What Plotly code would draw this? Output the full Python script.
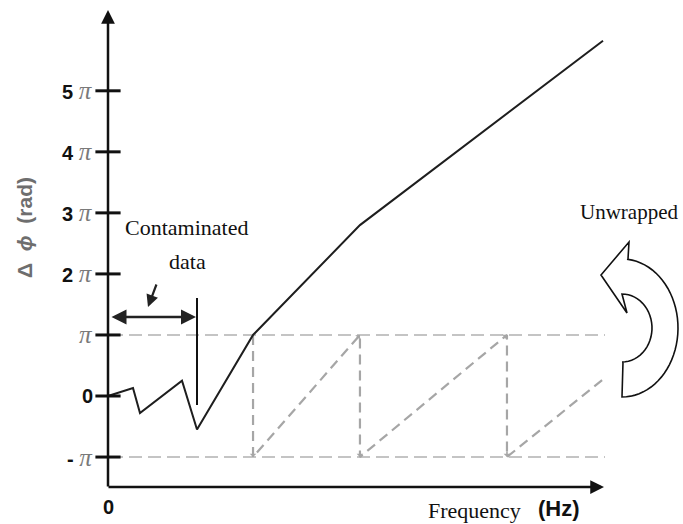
import numpy as np
import plotly.graph_objects as go

W, H = 683, 524

# Frequency in arbitrary units along the axis (0..100), phase difference in units of pi
unwrapped_f = [0, 5.05, 6.46, 14.95, 17.98, 29.3, 50.9, 100.0]
unwrapped_v = [0, 0.13, -0.28, 0.25, -0.55, 1.0, 2.8, 5.82]
wrapped_f = [29.3, 29.3, 50.9, 50.9, 80.6, 80.6, 100.4]
wrapped_v = [1, -1, 1, -1, 1, -1, 0.3]
tick_vals = [-1, 0, 1, 2, 3, 4, 5]
tick_nums = ["-", "0", "", "2", "3", "4", "5"]
contaminated_end = 17.98

# pixel placement of the axes origin and scale
X0, SX = 108.0, 4.95
V0, SY = 396.0, 61.04
xr = [-X0 / SX, (W - X0) / SX]
yr = [(V0 - H) / SY, V0 / SY]


def fx(px):
    return (px - X0) / SX


def vy(py):
    return (V0 - py) / SY


SERIF = "Liberation Serif"
SANS = "Liberation Sans"

fig = go.Figure()

# wrapped-phase band limits at +pi and -pi
for lvl in (1, -1):
    fig.add_trace(go.Scatter(x=[fx(110), fx(605)], y=[lvl, lvl], mode="lines",
                             line=dict(color="#c4c4c4", width=2, dash="13px,6px"),
                             hoverinfo="skip", showlegend=False))

# wrapped phase (sawtooth)
fig.add_trace(go.Scatter(x=wrapped_f, y=wrapped_v, mode="lines",
                         line=dict(color="#a6a6a6", width=2.2, dash="10px,6px"),
                         hoverinfo="skip", showlegend=False))

# unwrapped phase
fig.add_trace(go.Scatter(x=unwrapped_f, y=unwrapped_v, mode="lines",
                         line=dict(color="#1e1e1e", width=2),
                         hoverinfo="skip", showlegend=False))

# y-axis tick marks
fig.add_trace(go.Scatter(x=[0] * len(tick_vals), y=tick_vals, mode="markers",
                         marker=dict(symbol="line-ew", size=18,
                                     line=dict(color="#111", width=3)),
                         hoverinfo="skip", showlegend=False, cliponaxis=False))

# end of contaminated region
fig.add_trace(go.Scatter(x=[contaminated_end, contaminated_end], y=[vy(298), vy(405)],
                         mode="lines", line=dict(color="#111", width=2),
                         hoverinfo="skip", showlegend=False))

ann = []

# axes with arrow heads
ann.append(dict(x=0, y=vy(10), ax=0, ay=vy(488), xref="x", yref="y", axref="x", ayref="y",
                text="", showarrow=True, arrowhead=2, arrowsize=1.1, arrowwidth=2.5,
                arrowcolor="#111", standoff=0))
ann.append(dict(x=fx(604), y=vy(487), ax=fx(107), ay=vy(487), xref="x", yref="y",
                axref="x", ayref="y", text="", showarrow=True, arrowhead=2, arrowsize=1.1,
                arrowwidth=2.5, arrowcolor="#111", standoff=0))

# contaminated span (double arrow) and pointer
ann.append(dict(x=contaminated_end - 0.2, y=vy(317), ax=fx(110), ay=vy(317), xref="x", yref="y",
                axref="x", ayref="y", text="", showarrow=True, arrowhead=2, arrowsize=1.2,
                arrowwidth=2.5, arrowcolor="#222", arrowside="end+start", standoff=0,
                startarrowhead=2, startarrowsize=1.2))
ann.append(dict(x=fx(148), y=vy(307), ax=fx(157), ay=vy(283), xref="x", yref="y",
                axref="x", ayref="y", text="", showarrow=True, arrowhead=2, arrowsize=1.1,
                arrowwidth=2.2, arrowcolor="#222", standoff=0))

# small heads on the sawtooth segments
for i in range(1, len(wrapped_f) - 1):
    x1, y1 = wrapped_f[i], wrapped_v[i]
    x0, y0 = wrapped_f[i - 1], wrapped_v[i - 1]
    dxp = (x1 - x0) * SX
    dyp = -(y1 - y0) * SY
    n = np.hypot(dxp, dyp)
    ann.append(dict(x=x1, y=y1, ax=-dxp / n * 7, ay=-dyp / n * 7, xref="x", yref="y",
                    text="", showarrow=True, arrowhead=1, arrowsize=0.7, arrowwidth=1.6,
                    arrowcolor="#a6a6a6", standoff=0))

# y tick labels
for v, num in zip(tick_vals, tick_nums):
    if num == "0":
        txt = "<b>0</b>"
    else:
        pi = ('<span style="font-family:%s;font-size:25px;color:#7a7a7a"><i>π</i></span>'
              % SERIF)
        txt = ("<b>%s</b> " % num if num else "") + pi
    ann.append(dict(x=0, y=v, xref="x", yref="y", text=txt, showarrow=False,
                    xanchor="right", yanchor="middle", xshift=-13,
                    font=dict(family=SANS, size=20, color="#111")))

# axis titles
ann.append(dict(x=fx(24), y=vy(228), xref="x", yref="y", textangle=-90, showarrow=False,
                text="<b>Δ  <i>ϕ</i>  (rad)</b>", font=dict(family=SANS, size=21, color="#6e6e6e")))
ann.append(dict(x=0, y=vy(507), xref="x", yref="y", text="<b>0</b>", showarrow=False,
                font=dict(family=SANS, size=20, color="#111")))
ann.append(dict(x=fx(474), y=vy(510), xref="x", yref="y", text="Frequency", showarrow=False,
                font=dict(family=SERIF, size=22, color="#111")))
ann.append(dict(x=fx(559), y=vy(508), xref="x", yref="y", text="<b>(Hz)</b>", showarrow=False,
                font=dict(family=SANS, size=22, color="#111")))

# text labels
ann.append(dict(x=fx(186), y=vy(227), xref="x", yref="y", text="Contaminated", showarrow=False,
                font=dict(family=SERIF, size=22, color="#111")))
ann.append(dict(x=fx(187), y=vy(261), xref="x", yref="y", text="data", showarrow=False,
                font=dict(family=SERIF, size=22, color="#111")))
ann.append(dict(x=fx(629), y=vy(212), xref="x", yref="y", text="Unwrapped", showarrow=False,
                font=dict(family=SERIF, size=21, color="#111")))

# curved "unwrapped" arrow outline
cx, cy = 622.0, 328.0
t_out = np.radians(np.linspace(-84, 90, 40))
t_in = np.radians(np.linspace(90, -90, 30))
pts = [(629, 242), (628, 259)]
pts += [(cx + 56 * np.cos(t), cy + 69 * np.sin(t)) for t in t_out]
pts += [(623, 362)]
pts += [(cx + 30 * np.cos(t), cy + 34 * np.sin(t)) for t in t_in]
pts += [(627, 313), (601, 275)]
path = "M " + " L ".join("%.5f,%.5f" % (fx(px), vy(py)) for px, py in pts) + " Z"
shapes = [dict(type="path", path=path, xref="x", yref="y", fillcolor="white",
               line=dict(color="#111", width=1.6))]

fig.update_layout(
    width=W, height=H, margin=dict(l=0, r=0, t=0, b=0),
    paper_bgcolor="white", plot_bgcolor="white",
    xaxis=dict(range=xr, visible=False, fixedrange=True),
    yaxis=dict(range=yr, visible=False, fixedrange=True),
    annotations=ann, shapes=shapes, showlegend=False,
)

fig.write_html("out.html")
